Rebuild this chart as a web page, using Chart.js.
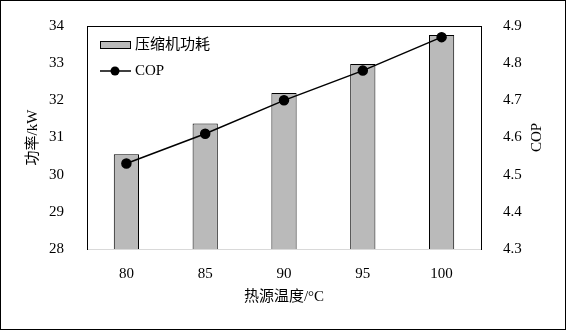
<!DOCTYPE html>
<html>
<head>
<meta charset="utf-8">
<script src="https://cdn.jsdelivr.net/npm/chart.js@4"></script>
<style>
  html, body { margin: 0; padding: 0; background: #fff; }
  #wrap { width: 566px; height: 330px; }
</style>
</head>
<body>
<div id="wrap"><canvas id="chart" width="566" height="330"></canvas></div>
<script>
// data
const temps = ['80', '85', '90', '95', '100'];
const power = [30.55, 31.38, 32.2, 32.98, 33.76];
const cop = [4.53, 4.61, 4.70, 4.78, 4.87];

const FONT = '"Liberation Serif", "Noto Sans CJK SC", serif';
Chart.defaults.color = '#000';
Chart.defaults.font.family = FONT;
Chart.defaults.font.size = 15;

// frame, top edge of plot, right axis title and the inside legend
const extras = {
    id: 'extras',
    beforeDatasetsDraw(chart){
        const a = chart.chartArea;
        const c = chart.ctx;
        c.save();
        c.strokeStyle = '#000';
        c.lineWidth = 1;
        c.beginPath();
        c.moveTo(a.left, a.top + 0.5);
        c.lineTo(a.right, a.top + 0.5);
        c.stroke();
        c.restore();
    },
    afterDraw(chart){
        const c = chart.ctx;
        const a = chart.chartArea;
        c.save();
        c.strokeStyle = '#000';
        c.lineWidth = 1;
        c.strokeRect(0.5, 0.5, chart.width - 1, chart.height - 1);

        c.font = '15px ' + FONT;
        c.textBaseline = 'middle';
        c.textAlign = 'center';
        c.fillStyle = '#000';
        // right axis title reads bottom to top
        c.save();
        c.translate(537, (a.top + a.bottom) / 2);
        c.rotate(-Math.PI / 2);
        c.fillText('COP', 0, 0);
        c.restore();

        const ds = chart.data.datasets;
        const x0 = a.left + 13;
        c.textAlign = 'left';
        // bar item
        let y = a.top + 19;
        c.fillStyle = ds[0].backgroundColor;
        c.fillRect(x0, y - 3.5, 31, 7);
        c.strokeStyle = ds[0].borderColor;
        c.strokeRect(x0 + 0.5, y - 3.5, 30, 7);
        c.fillStyle = '#000';
        c.fillText(ds[0].label, x0 + 35, y);
        // line item
        y = a.top + 45;
        c.strokeStyle = ds[1].borderColor;
        c.lineWidth = 1.5;
        c.beginPath();
        c.moveTo(x0, y);
        c.lineTo(x0 + 31, y);
        c.stroke();
        c.beginPath();
        c.arc(x0 + 15, y, 4.5, 0, Math.PI * 2);
        c.fillStyle = ds[1].pointBackgroundColor;
        c.fill();
        c.fillStyle = '#000';
        c.fillText(ds[1].label, x0 + 35, y);
        c.restore();
    }
};

new Chart(document.getElementById('chart'), {
    type: 'bar',
    data: {
        labels: temps,
        datasets: [{
            label: '压缩机功耗',
            data: power,
            yAxisID: 'y',
            backgroundColor: '#bababa',
            borderColor: '#000',
            borderWidth: 1,
            barPercentage: 0.32,
            categoryPercentage: 1,
            order: 2
        }, {
            type: 'line',
            label: 'COP',
            data: cop,
            yAxisID: 'y1',
            borderColor: '#000',
            borderWidth: 1.5,
            pointRadius: 4.5,
            pointBackgroundColor: '#000',
            pointBorderColor: '#000',
            tension: 0,
            order: 1
        }]
    },
    options: {
        responsive: false,
        animation: false,
        devicePixelRatio: 1,
        layout: { padding: { top: 26, left: 0, right: 0, bottom: 0 } },
        plugins: {
            legend: { display: false },
            tooltip: { enabled: false }
        },
        scales: {
            x: {
                grid: { display: false },
                border: { color: '#d9d9d9', width: 1 },
                ticks: { padding: 8 },
                title: { display: true, text: '热源温度/°C', padding: { top: 24, bottom: 24 } },
                afterFit(s){ s.height = 81; }
            },
            y: {
                position: 'left',
                min: 28,
                max: 34,
                grid: { display: false },
                border: { color: '#000', width: 1 },
                ticks: { stepSize: 1, padding: 15 },
                title: { display: true, text: '功率/kW', padding: { top: 24, bottom: 0 } },
                afterFit(s){ s.width = 87; }
            },
            y1: {
                position: 'right',
                min: 4.3,
                max: 4.9,
                grid: { display: false },
                border: { color: '#000', width: 1 },
                ticks: { stepSize: 0.1, padding: 14, callback: v => Number(v).toFixed(1) },
                afterFit(s){ s.width = 85; }
            }
        }
    },
    plugins: [extras]
});
</script>
</body>
</html>
